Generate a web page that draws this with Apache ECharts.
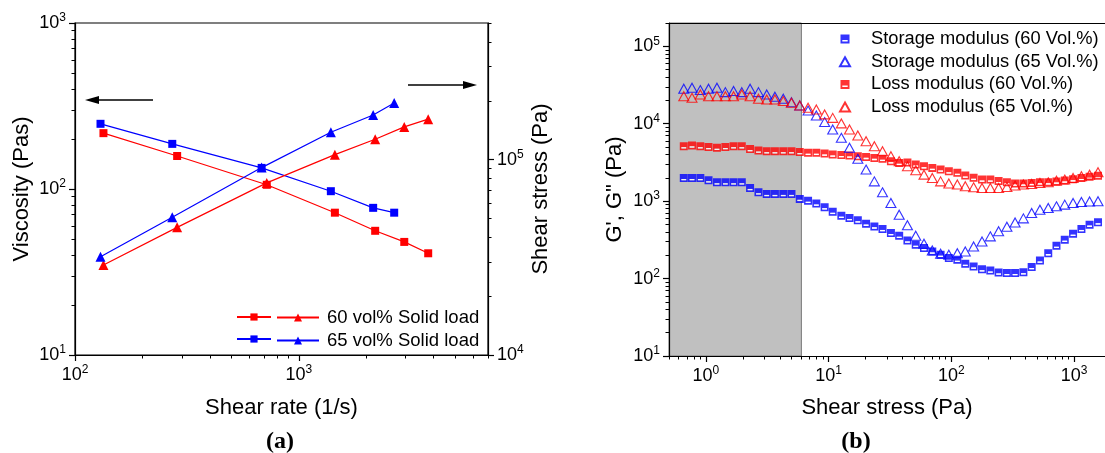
<!DOCTYPE html>
<html>
<head>
<meta charset="utf-8">
<script src="https://cdn.jsdelivr.net/npm/echarts@6/dist/echarts.min.js"></script>
<style>
html, body { margin: 0; padding: 0; background: #fff; }
#chart { width: 1105px; height: 453px; }
</style>
</head>
<body>
<div id="chart"></div>
<script>
// ---------- (a) flow curves ----------
const shearRate60 = [134, 286, 719, 1449, 2193, 2958, 3784];
const viscosity60 = [217, 158, 106, 72, 56, 48, 41];
const shearStress60 = [28900, 45000, 76000, 106000, 127000, 147000, 161000];

const shearRate65 = [130, 272, 682, 1390, 2148, 2667];
const viscosity65 = [247, 187, 134, 97, 77, 72];
const shearStress65 = [31800, 50700, 91000, 138000, 169000, 195000];

// ---------- (b) amplitude sweep ----------
const sweepStress = [
  0.66, 0.77, 0.90, 1.05, 1.23, 1.44, 1.68, 1.96, 2.29, 2.68,
  3.13, 3.65, 4.27, 4.98, 5.82, 6.80, 7.94, 9.28, 10.8, 12.7,
  14.8, 17.3, 20.2, 23.6, 27.5, 32.2, 37.6, 43.9, 51.3, 59.9,
  70.0, 81.8, 95.5, 112, 130, 152, 178, 208, 243, 284,
  331, 387, 452, 528, 617, 720, 841, 983, 1150, 1340, 1570
];
const storage60 = [
  1990, 1990, 1990, 1860, 1750, 1750, 1750, 1750, 1480, 1300,
  1240, 1240, 1240, 1240, 1070, 1010, 930, 835, 727, 649,
  606, 565, 512, 472, 437, 387, 357, 311, 273, 248,
  224, 203, 184, 175, 155, 143, 132, 127, 120, 118,
  118, 121, 141, 171, 213, 265, 318, 380, 437, 497, 532
];
const storage65 = [
  28300, 29200, 27200, 28300, 29200, 25600, 26500, 25600, 28300, 25600,
  23900, 22300, 21000, 19000, 17200, 14800, 12800, 10500, 8430, 6580,
  4890, 3520, 2560, 1800, 1300, 948, 669, 489, 357, 282,
  231, 209, 203, 213, 224, 260, 302, 351, 409, 468,
  530, 599, 703, 776, 817, 857, 902, 948, 975, 990, 1000
];
const loss60 = [
  5130, 5250, 5130, 5000, 4890, 5000, 5130, 5130, 4700, 4500,
  4420, 4420, 4420, 4420, 4300, 4210, 4210, 4120, 4000, 3940,
  3880, 3800, 3730, 3620, 3520, 3280, 3120, 3150, 2970, 2830,
  2690, 2560, 2430, 2320, 2140, 2000, 1900, 1900, 1820, 1750,
  1690, 1690, 1720, 1750, 1750, 1790, 1850, 1920, 1990, 2060, 2130
];
const loss65 = [
  22700, 21600, 23900, 22700, 22700, 22700, 22700, 23900, 22700, 21000,
  20600, 20600, 19600, 18700, 17200, 16100, 15300, 13200, 11900, 10100,
  8430, 7050, 5950, 5130, 4420, 3800, 3280, 2820, 2500, 2200,
  1995, 1800, 1690, 1640, 1560, 1510, 1480, 1480, 1480, 1520,
  1590, 1640, 1670, 1720, 1750, 1840, 1900, 1995, 2100, 2200, 2360
];
const linearRegion = [0.5, 6];   // shaded low-stress region

// major tick values of the log axes
const ticksRateA = [100, 1000];
const ticksViscA = [10, 100, 1000];
const ticksStressA = [10000, 100000];
const ticksStressB = [1, 10, 100, 1000];
const ticksModB = [10, 100, 1000, 10000, 100000];

const FONT = "'Liberation Sans', Arial, sans-serif";
const BLUE = '#0000ff';
const RED = '#ff0000';

// 2..9 multiples of each decade between lo and hi
function minorTicks(lo, hi) {
  const out = [];
  for (let d = Math.pow(10, Math.floor(Math.log10(lo))); d <= hi; d *= 10) {
    for (let m = 2; m <= 9; m++) {
      const v = +(m * d).toPrecision(3);
      if (v >= lo && v <= hi) out.push(v);
    }
  }
  return out;
}
function pairs(xs, ys) { return xs.map((x, i) => [x, ys[i]]); }

const tickRich = {
  b: { fontSize: 18, fontFamily: FONT, color: '#000' },
  s: { fontSize: 12, fontFamily: FONT, color: '#000', padding: [0, 0, 10, 0] }
};
function powLabel(v) {
  const e = Math.round(Math.log10(v));
  return '{b|10}{s|' + e + '}';
}
const nameStyle = { fontSize: 22, fontFamily: FONT, color: '#000' };
const axisLine = { show: true, lineStyle: { color: '#000', width: 1.2 } };

function majorAxis(o) {
  return Object.assign({
    type: 'log', logBase: 10,
    axisLine: axisLine,
    axisTick: { show: true, inside: false, length: 6, customValues: o.ticks, lineStyle: { color: '#000', width: 1.2 } },
    axisLabel: { show: true, customValues: o.ticks, formatter: powLabel, rich: tickRich, margin: 9 },
    splitLine: { show: false },
    nameLocation: 'middle', nameTextStyle: nameStyle, z: 5
  }, o.opt);
}
function minorAxis(o) {
  return Object.assign({
    type: 'log', logBase: 10,
    axisLine: { show: false },
    axisTick: { show: true, inside: false, length: 3.5, customValues: o.ticks, lineStyle: { color: '#000', width: 1 } },
    axisLabel: { show: false },
    splitLine: { show: false }, z: 5
  }, o.opt);
}
// frame line only (top edge of a plot)
function frameAxis(o) {
  return Object.assign({
    type: 'log', logBase: 10,
    axisLine: axisLine, axisTick: { show: false }, axisLabel: { show: false },
    splitLine: { show: false }, z: 5
  }, o);
}

const X_B_MIN = 0.5, X_B_MAX = 1790;

const option = {
  animation: false,
  backgroundColor: '#fff',
  textStyle: { fontFamily: FONT },
  grid: [
    { left: 75, top: 23, width: 413, height: 332, show: true, borderColor: '#000', borderWidth: 1.2, backgroundColor: 'transparent', z: 5 },
    { left: 669, top: 23, right: 0, height: 333, show: false }
  ],
  xAxis: [
    majorAxis({ ticks: ticksRateA, opt: { gridIndex: 0, position: 'bottom', min: 100, max: 7000, name: 'Shear rate (1/s)', nameGap: 42 } }),
    minorAxis({ ticks: minorTicks(100, 7000), opt: { gridIndex: 0, position: 'bottom', min: 100, max: 7000 } }),
    majorAxis({ ticks: ticksStressB, opt: { gridIndex: 1, position: 'bottom', min: X_B_MIN, max: X_B_MAX, name: 'Shear stress (Pa)', nameGap: 41 } }),
    minorAxis({ ticks: minorTicks(X_B_MIN, X_B_MAX), opt: { gridIndex: 1, position: 'bottom', min: X_B_MIN, max: X_B_MAX } }),
    frameAxis({ gridIndex: 1, position: 'top', min: X_B_MIN, max: X_B_MAX })
  ],
  yAxis: [
    majorAxis({ ticks: ticksViscA, opt: { gridIndex: 0, position: 'left', min: 10, max: 1000, name: 'Viscosity (Pas)', nameGap: 42, nameRotate: 90 } }),
    majorAxis({ ticks: ticksStressA, opt: { gridIndex: 0, position: 'right', min: 10000, max: 500000, name: 'Shear stress (Pa)', nameGap: 42, nameRotate: 90 } }),
    minorAxis({ ticks: minorTicks(10, 1000), opt: { gridIndex: 0, position: 'left', min: 10, max: 1000 } }),
    minorAxis({ ticks: minorTicks(10000, 500000), opt: { gridIndex: 0, position: 'right', min: 10000, max: 500000 } }),
    majorAxis({ ticks: ticksModB, opt: { gridIndex: 1, position: 'left', min: 10, max: 200000, name: 'G\', G" (Pa)', nameGap: 43, nameRotate: 90 } }),
    minorAxis({ ticks: minorTicks(10, 200000), opt: { gridIndex: 1, position: 'left', min: 10, max: 200000 } })
  ],
  legend: [
    {
      data: ['Viscosity, 60 vol%', 'Viscosity, 65 vol%'],
      orient: 'vertical', left: 231, top: 303, itemWidth: 34, itemHeight: 9, itemGap: 4,
      selectedMode: false, formatter: () => ' ',
      textStyle: { fontSize: 18, lineHeight: 18, fontFamily: FONT }
    },
    {
      data: ['60 vol% Solid load', '65 vol% Solid load'],
      orient: 'vertical', left: 271, top: 303, itemWidth: 42, itemHeight: 10, itemGap: 4,
      selectedMode: false,
      formatter: n => '{t|' + n + '}',
      textStyle: { fontSize: 18.5, lineHeight: 18, fontFamily: FONT, color: '#000',
        rich: { t: { fontSize: 18.5, fontFamily: FONT, color: '#000', padding: [0, 0, 0, 3] } } }
    },
    {
      data: ['Storage modulus (60 Vol.%)', 'Storage modulus (65 Vol.%)', 'Loss modulus (60 Vol.%)', 'Loss modulus (65 Vol.%)'],
      orient: 'vertical', left: 834, top: 24, itemWidth: 10, itemHeight: 9, itemGap: 2.7,
      selectedMode: false,
      formatter: n => '{t|' + n + '}',
      textStyle: { fontSize: 18.3, lineHeight: 20, fontFamily: FONT, color: '#000',
        rich: { t: { fontSize: 18.3, fontFamily: FONT, color: '#000', padding: [0, 0, 0, 16] } } }
    }
  ],
  series: [
    // (a) viscosity (left axis)
    { name: 'Viscosity, 60 vol%', type: 'line', xAxisIndex: 0, yAxisIndex: 0, data: pairs(shearRate60, viscosity60),
      symbol: 'rect', symbolSize: 8, color: RED, lineStyle: { width: 1.2, color: RED }, z: 3 },
    { name: 'Viscosity, 65 vol%', type: 'line', xAxisIndex: 0, yAxisIndex: 0, data: pairs(shearRate65, viscosity65),
      symbol: 'rect', symbolSize: 8, color: BLUE, lineStyle: { width: 1.2, color: BLUE }, z: 3 },
    // (a) shear stress (right axis)
    { name: '60 vol% Solid load', type: 'line', xAxisIndex: 0, yAxisIndex: 1, data: pairs(shearRate60, shearStress60),
      symbol: 'triangle', symbolSize: 10, color: RED, lineStyle: { width: 1.2, color: RED }, z: 3 },
    { name: '65 vol% Solid load', type: 'line', xAxisIndex: 0, yAxisIndex: 1, data: pairs(shearRate65, shearStress65),
      symbol: 'triangle', symbolSize: 10, color: BLUE, lineStyle: { width: 1.2, color: BLUE }, z: 3 },

    // (b) shaded region
    { name: 'region', type: 'line', xAxisIndex: 2, yAxisIndex: 4, data: [], silent: true, z: 1,
      markArea: { silent: true, itemStyle: { color: '#c0c0c0', borderColor: '#7a7a7a', borderWidth: 1 },
        data: [[{ xAxis: linearRegion[0] }, { xAxis: linearRegion[1] }]] } },
    // (b) moduli
    { name: 'Storage modulus (60 Vol.%)', type: 'scatter', xAxisIndex: 2, yAxisIndex: 4, data: pairs(sweepStress, storage60),
      symbol: 'path://M0,0H10V10H0Z M2,6.2V7.8H8V6.2Z', symbolSize: 8, itemStyle: { color: BLUE }, z: 3 },
    { name: 'Loss modulus (60 Vol.%)', type: 'scatter', xAxisIndex: 2, yAxisIndex: 4, data: pairs(sweepStress, loss60),
      symbol: 'path://M0,0H10V10H0Z M2,6.2V7.8H8V6.2Z', symbolSize: 8, itemStyle: { color: RED }, z: 3 },
    // white inner bar of the half-filled squares
    { name: 'bar60s', type: 'scatter', xAxisIndex: 2, yAxisIndex: 4, data: pairs(sweepStress, storage60), silent: true,
      symbol: 'rect', symbolSize: [4.8, 1.28], symbolOffset: [0, 1.6], itemStyle: { color: '#fff' }, z: 4 },
    { name: 'bar60l', type: 'scatter', xAxisIndex: 2, yAxisIndex: 4, data: pairs(sweepStress, loss60), silent: true,
      symbol: 'rect', symbolSize: [4.8, 1.28], symbolOffset: [0, 1.6], itemStyle: { color: '#fff' }, z: 4 },
    { name: 'Storage modulus (65 Vol.%)', type: 'scatter', xAxisIndex: 2, yAxisIndex: 4, data: pairs(sweepStress, storage65),
      symbol: 'triangle', symbolSize: [10, 9], itemStyle: { color: 'transparent', borderColor: BLUE, borderWidth: 1.1 }, z: 4 },
    { name: 'Loss modulus (65 Vol.%)', type: 'scatter', xAxisIndex: 2, yAxisIndex: 4, data: pairs(sweepStress, loss65),
      symbol: 'triangle', symbolSize: [10, 9], itemStyle: { color: 'transparent', borderColor: RED, borderWidth: 1.1 }, z: 4 }
  ],
  graphic: [
    { type: 'line', shape: { x1: 153, y1: 100, x2: 95, y2: 100 }, style: { stroke: '#000', lineWidth: 1.5 } },
    { type: 'polygon', shape: { points: [[85, 100], [99, 96], [99, 104]] }, style: { fill: '#000' } },
    { type: 'line', shape: { x1: 408, y1: 85, x2: 466, y2: 85 }, style: { stroke: '#000', lineWidth: 1.5 } },
    { type: 'polygon', shape: { points: [[477, 85], [463, 81], [463, 89]] }, style: { fill: '#000' } },
    { type: 'text', x: 280, y: 442, style: { text: '(a)', font: "bold 24px 'Liberation Serif', 'Times New Roman', serif", fill: '#000', align: 'center', verticalAlign: 'middle' } },
    { type: 'text', x: 856, y: 442, style: { text: '(b)', font: "bold 24px 'Liberation Serif', 'Times New Roman', serif", fill: '#000', align: 'center', verticalAlign: 'middle' } }
  ]
};

const chart = echarts.init(document.getElementById('chart'), null, { renderer: 'canvas' });
chart.setOption(option);
</script>
</body>
</html>
